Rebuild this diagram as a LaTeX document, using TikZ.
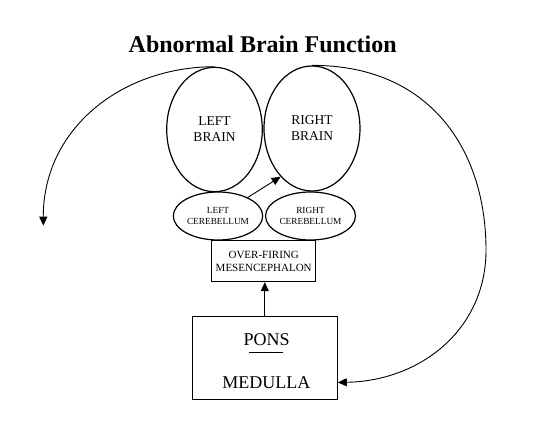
\documentclass[tikz,border=0pt]{standalone}
\usepackage{fontspec}
\setmainfont{Liberation Serif}
\usetikzlibrary{shapes.geometric,arrows.meta}
\begin{document}
\begin{tikzpicture}[x=1pt,y=-1pt,
  lobe/.style={draw,ellipse,line width=1.2pt,inner sep=0pt,align=center},
  boxnode/.style={draw,rectangle,line width=1pt,inner sep=0pt,align=center},
  link/.style={line width=0.9pt,-{Triangle[length=9pt,width=8pt]}},
  bigfont/.style={font=\fontsize{13.5}{16}\selectfont},
  smallfont/.style={font=\fontsize{9.3}{10.7}\selectfont}]
\useasboundingbox (0,0) rectangle (547,433);
\node[font=\bfseries\fontsize{24}{28}\selectfont,anchor=base,inner sep=0pt] (title) at (262.7,52.3) {Abnormal Brain Function};
\node[lobe,bigfont,minimum width=95.6pt,minimum height=124.4pt] (lb) at (214.5,129.5) {LEFT\\BRAIN};
\node[lobe,bigfont,minimum width=96pt,minimum height=125pt] (rb) at (312,128.5) {RIGHT\\BRAIN};
\node[lobe,smallfont,minimum width=89.4pt,minimum height=48pt] (lc) at (218,216) {LEFT\\CEREBELLUM};
\node[lobe,smallfont,minimum width=90pt,minimum height=48pt] (rc) at (310.5,216) {RIGHT\\CEREBELLUM};
\node[boxnode,font=\fontsize{11}{13.3}\selectfont,minimum width=104pt,minimum height=40.7pt] (of) at (263.7,261.3) {OVER-FIRING\\MESENCEPHALON};
\node[boxnode,minimum width=145pt,minimum height=83.3pt] (pons) at (264.8,358.3) {};
\node[font=\fontsize{18}{20}\selectfont,anchor=base,inner sep=0pt] (ponst) at (266.7,345.7) {PONS};
\node[font=\fontsize{18}{20}\selectfont,anchor=base,inner sep=0pt] (med) at (266.3,388.3) {MEDULLA};
\draw[line width=1pt] (249,352.3) -- (283.3,352.3);
\coordinate (lt) at (43.3,225.7);
\draw[link] (lb.north) .. controls (120,67) and (43,130) .. (lt);
\draw[link] (rb.north) .. controls (430,65) and (486,150) .. (486,250) .. controls (486,330) and (420,381) .. (pons.east |- med);
\draw[link] (pons.north) -- (pons.north |- of.south);
\draw[link] (lc.32) -- (rb.237);
\end{tikzpicture}
\end{document}
